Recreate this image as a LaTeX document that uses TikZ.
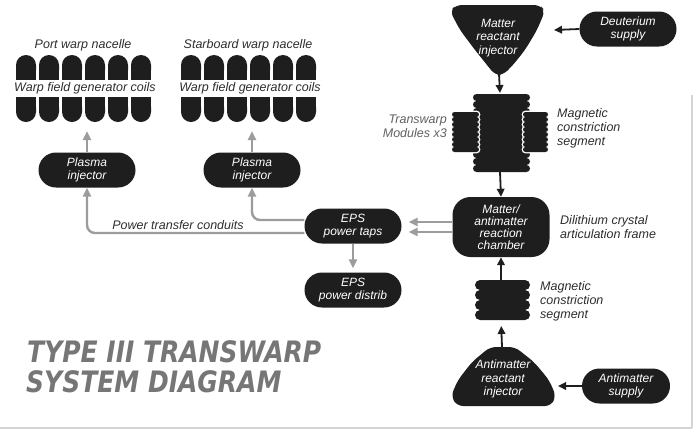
\documentclass[tikz,border=0pt]{standalone}
\usepackage{fontspec}
\setmainfont{Liberation Sans}
\newfontfamily\titlefont{DejaVu Sans}
\usetikzlibrary{arrows.meta}
\definecolor{dk}{HTML}{1E1E1E}
\definecolor{gr}{HTML}{9C9C9C}
\definecolor{lblc}{HTML}{2E2E2E}
\definecolor{ttl}{HTML}{767676}
\definecolor{edge}{HTML}{D4D4D4}
\begin{document}
\begin{tikzpicture}[x=1pt,y=-1pt,
  box/.style={fill=dk, rounded corners=17.5pt, minimum width=97pt, minimum height=35pt, inner sep=0pt, text=white, align=center, font=\fontsize{12}{13.5}\selectfont\itshape},
  intext/.style={inner sep=0pt, text=white, align=center, font=\fontsize{12}{13.5}\selectfont\itshape},
  lbl/.style={text=lblc, font=\fontsize{12.5}{14}\selectfont\itshape, inner sep=0pt, align=left},
  garrow/.style={draw=gr, line width=2.4pt, -{Triangle[length=9pt,width=8pt]}, rounded corners=8pt},
  barrow/.style={draw=dk, line width=1.8pt, -{Triangle[length=8pt,width=7.5pt]}},
  coiltop/.style={fill=dk, rounded corners=10pt},
]
\useasboundingbox (0,0) rectangle (695,432);
\fill[white] (0,0) rectangle (695,432);
\draw[edge, line width=1.5pt] (0,428) -- (692,428);
\draw[edge, line width=1.2pt] (692,95) -- (692,428);

% ---------- nacelles ----------
\node[lbl] (portlbl) at (83,45) {Port warp nacelle};
\node[lbl] (stblbl) at (248,45) {Starboard warp nacelle};
\foreach \x in {16,39,62,85,108,131,181,204,227,250,273,296}{
  \fill[coiltop] (\x,55) rectangle (\x+20,80);
  \fill[dk] (\x,67) rectangle (\x+20,80);
  \fill[coiltop] (\x,97) rectangle (\x+20,122);
  \fill[dk] (\x,97) rectangle (\x+20,110);
}
\node[lbl] (portcoils) at (85,88) {Warp field generator coils};
\node[lbl] (stbcoils) at (250,88) {Warp field generator coils};
\coordinate (portcoilbase) at (85,131);
\coordinate (stbcoilbase) at (250,131);

% ---------- plasma injectors ----------
\node[box] (portinj) at (87,170) {Plasma\\injector};
\node[box] (stbinj) at (252,170) {Plasma\\injector};
\draw[garrow] (portinj.north) -- (portinj.north |- portcoilbase);
\draw[garrow] (stbinj.north) -- (stbinj.north |- stbcoilbase);

% ---------- EPS ----------
\node[box] (eps) at (353,226) {EPS\\power taps};
\node[box] (distrib) at (353,290) {EPS\\power distrib};
\draw[garrow] ([yshift=-7pt]eps.west) -| (portinj.south);
\draw[garrow] ([yshift=6pt]eps.west) -| (stbinj.south);
\node[lbl] (ptc) at (178,225) {Power transfer conduits};
\draw[garrow, shorten >=4pt] (eps.south) -- (distrib.north);

% ---------- reaction chamber ----------
\node[box, minimum height=60pt, rounded corners=18pt, font=\fontsize{12}{12}\selectfont\itshape] (chamber) at (501,227) {Matter/\\antimatter\\reaction\\chamber};
\draw[garrow, shorten >=7pt] ([yshift=5pt]chamber.west) -- ([yshift=5pt]chamber.west -| eps.east);
\draw[garrow, shorten >=7pt] ([yshift=-5pt]chamber.west) -- ([yshift=-5pt]chamber.west -| eps.east);
\node[lbl] (dili) at (560,227) [anchor=west] {Dilithium crystal\\articulation frame};

% ---------- matter reactant injector ----------
\fill[dk, rounded corners=6pt] (456,5) -- (540,5) -- (545,11) -- (537,30) -- (525,50) -- (513,65) -- (503,75) -- (495,75) -- (487,65) -- (475,50) -- (460,30) -- (450,11) -- cycle;
\node[intext] (mri) at (498,38) {Matter\\reactant\\injector};
\coordinate (mribot) at (499,74);
\coordinate (mriright) at (554,30);
\node[box] (deut) at (628,29) {Deuterium\\supply};
\draw[barrow] (deut.west) -- (mriright);

% ---------- transwarp modules ----------
\fill[dk] (479,96) rectangle (524,170);
\foreach \i in {0,1,2}{
  \fill[dk, rounded corners=3.5pt] (473,94+7*\i) rectangle (530,101+7*\i);
  \fill[dk, rounded corners=3.5pt] (473,151+7*\i) rectangle (530,158+7*\i);
}
\foreach \i in {0,...,7}{
  \draw[white, line width=2.6pt, rounded corners=2.5pt] (452,112+5*\i) rectangle (479,117+5*\i);
  \draw[white, line width=2.6pt, rounded corners=2.5pt] (523,112+5*\i) rectangle (548,117+5*\i);
}
\foreach \i in {0,...,7}{
  \fill[dk, rounded corners=2.5pt] (452,112+5*\i) rectangle (479,117+5*\i);
  \fill[dk, rounded corners=2.5pt] (523,112+5*\i) rectangle (548,117+5*\i);
}
\coordinate (twtop) at (500,93);
\coordinate (twbot) at (500,172);
\node[lbl, text=black!62, align=right, anchor=east] (twlbl) at (447,126) {Transwarp\\Modules x3};
\node[lbl, anchor=west] (mcs1) at (557,128) {Magnetic\\constriction\\segment};
\draw[barrow] (mribot) -- (twtop);
\draw[barrow] (twbot) -- (chamber.north);

% ---------- lower constriction segment ----------
\foreach \i in {0,1,2,3}{
  \fill[dk, rounded corners=5pt] (475,280+10*\i) rectangle (530,290+10*\i);
}
\coordinate (segtop) at (501,280);
\coordinate (segbot) at (501,320);
\node[lbl, anchor=west] (mcs2) at (540,301) {Magnetic\\constriction\\segment};
\draw[barrow] (segtop) -- (chamber.south);

% ---------- antimatter reactant injector ----------
\fill[dk, rounded corners=6pt] (490,347) -- (515,347) -- (534,362) -- (549,380) -- (556,396) -- (551,406) -- (457,406) -- (451,396) -- (458,380) -- (472,362) -- cycle;
\node[intext] (ari) at (503,379) {Antimatter\\reactant\\injector};
\coordinate (aritop) at (502,347);
\coordinate (ariright) at (558,386);
\draw[barrow, shorten >=6pt] (aritop) -- (segbot);
\node[box, minimum width=88pt] (amsup) at (626,386) {Antimatter\\supply};
\draw[barrow] (amsup.west) -- (ariright);

% ---------- title ----------
\node[anchor=base west, inner sep=0pt, text=ttl, font=\titlefont\bfseries\itshape\fontsize{25}{25}\selectfont] (title1) at (27,362) {\scalebox{1}[1.18]{TYPE III TRANSWARP}};
\node[anchor=base west, inner sep=0pt, text=ttl, font=\titlefont\bfseries\itshape\fontsize{25}{25}\selectfont] (title2) at (26,392) {\scalebox{1}[1.18]{SYSTEM DIAGRAM}};
\end{tikzpicture}
\end{document}
